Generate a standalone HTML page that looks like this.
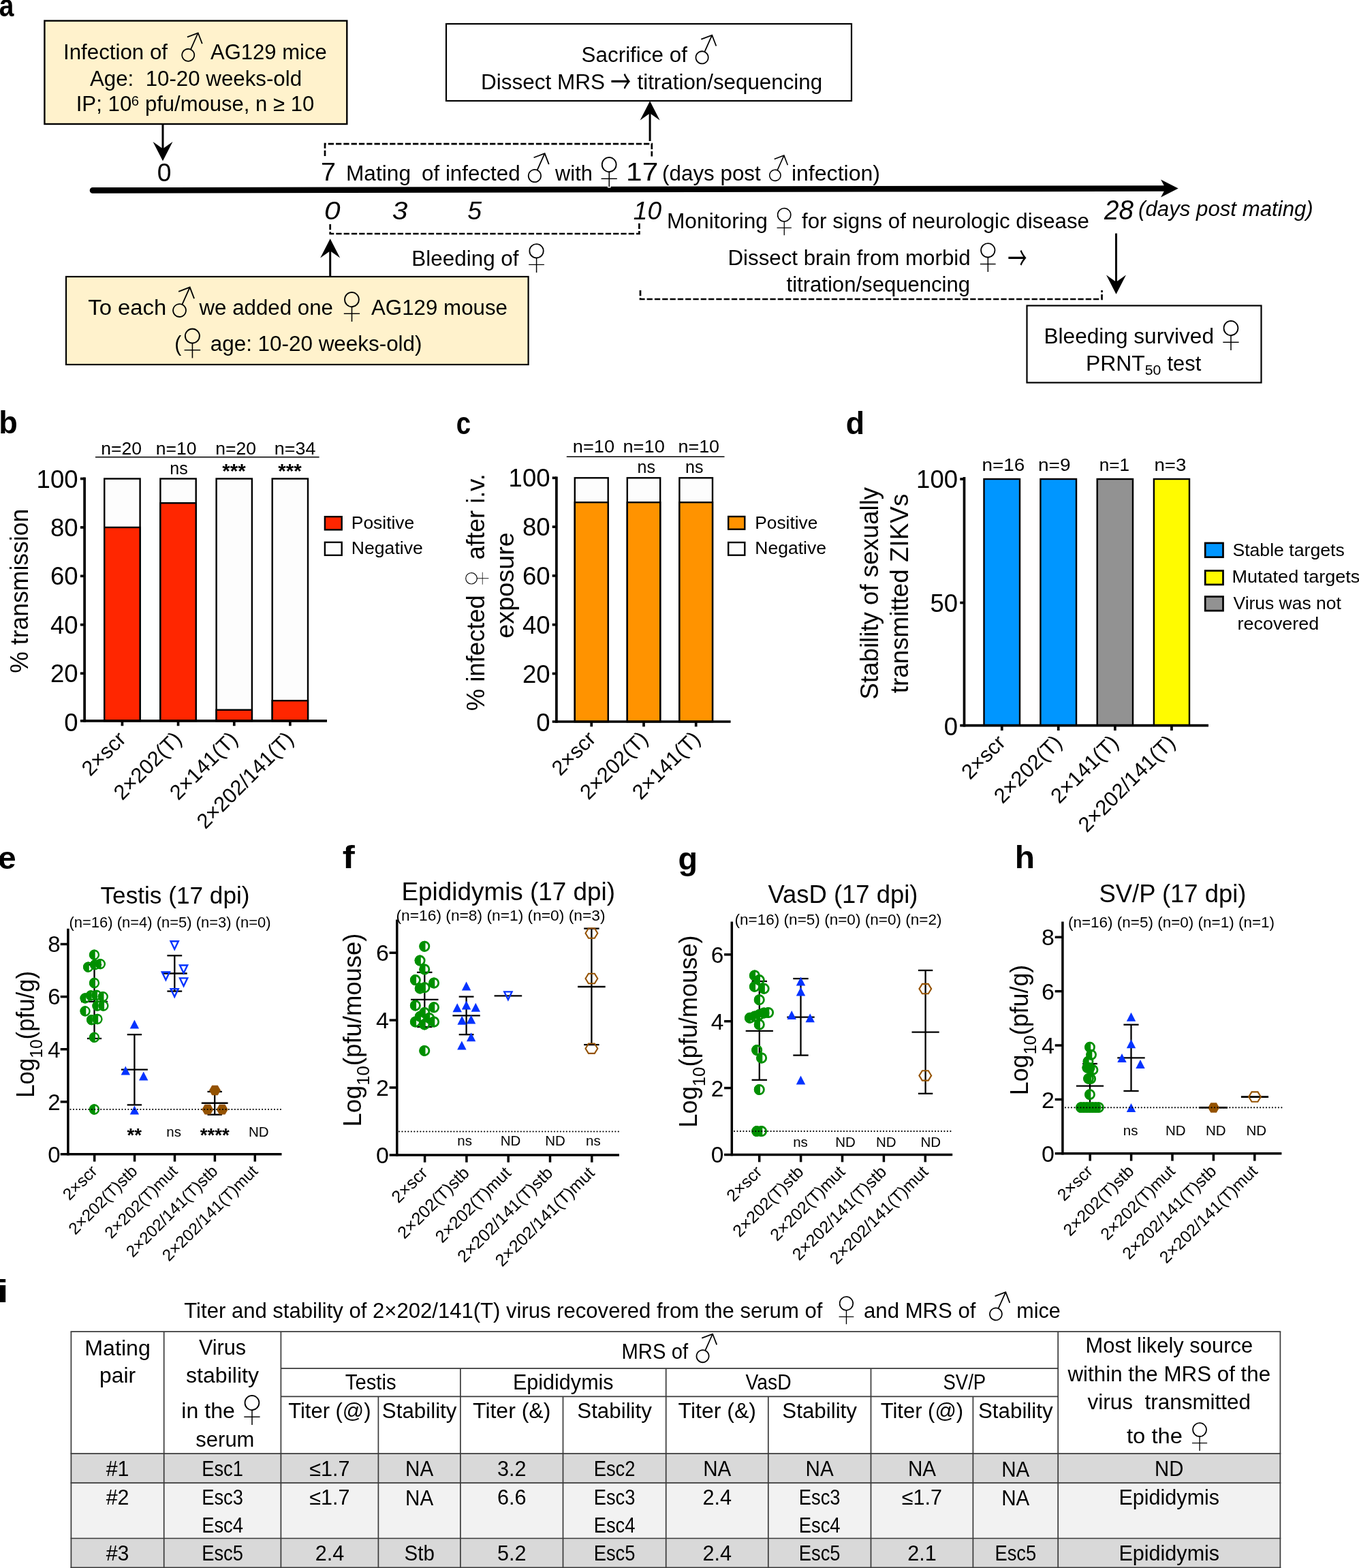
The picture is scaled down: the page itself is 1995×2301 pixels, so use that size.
<!DOCTYPE html>
<html lang="en">
<head>
<meta charset="utf-8">
<title>Figure</title>
<style>
html,body{margin:0;padding:0;background:#fff;width:1995px;height:2301px;overflow:hidden}
svg{display:block}
text{white-space:pre}
</style>
</head>
<body>
<svg xmlns="http://www.w3.org/2000/svg" width="1995" height="2301" viewBox="0 0 1995 2301" font-family="'Liberation Sans', Arial, Helvetica, sans-serif" fill="#000">
<rect x="0" y="0" width="1995" height="2301" fill="#fff"/>
<text x="-1.17" y="24.3" font-size="47" font-weight="bold" textLength="21.62" lengthAdjust="spacingAndGlyphs">a</text>
<rect x="65.4" y="30.5" width="443.9" height="151.5" fill="#FFF2CC" stroke="#000" stroke-width="2.4"/>
<text x="92.98" y="86.5" font-size="31" textLength="153.02" lengthAdjust="spacingAndGlyphs">Infection of</text>
<text transform="translate(276.09,80.91) rotate(-21)" x="-15.79" y="9.95" font-size="49.51" font-family="'Noto Sans CJK JP', 'Noto Sans CJK SC', 'DejaVu Sans', sans-serif" font-weight="100">♂</text>
<text x="309" y="86.5" font-size="31" textLength="170.68" lengthAdjust="spacingAndGlyphs">AG129 mice</text>
<text x="132" y="125.6" font-size="31" textLength="311.05" lengthAdjust="spacingAndGlyphs">Age:  10-20 weeks-old</text>
<text x="111.69" y="162.5" font-size="31" textLength="81.59" lengthAdjust="spacingAndGlyphs">IP; 10</text>
<text x="192.73" y="155.1" font-size="20.5" textLength="11.3" lengthAdjust="spacingAndGlyphs">6</text>
<text x="212.98" y="162.5" font-size="31" textLength="248.2" lengthAdjust="spacingAndGlyphs">pfu/mouse, n ≥ 10</text>
<line x1="239" y1="182" x2="239" y2="222" stroke="#000" stroke-width="3"/>
<polygon points="239,236.3 224.5,208 239,218.3 253.5,208" fill="#000"/>
<text x="230.71" y="265.6" font-size="37" textLength="20.74" lengthAdjust="spacingAndGlyphs">0</text>
<path d="M136,279.4 L1710,276.5" fill="none" stroke="#000" stroke-width="8.6" stroke-linecap="round"/>
<polygon points="1729.7,276.5 1704.1,263.5 1711,276.5 1704.1,289.5" fill="#000"/>
<path d="M477,229 L477,211.1 L956.8,211.1 L956.8,229.5" fill="none" stroke="#000" stroke-width="2.7" stroke-dasharray="8.3,3"/>
<line x1="954.1" y1="207" x2="954.1" y2="160" stroke="#000" stroke-width="3"/>
<polygon points="954.1,148.2 939.6,176.5 954.1,166.2 968.6,176.5" fill="#000"/>
<rect x="655" y="35" width="595" height="113" fill="#fff" stroke="#000" stroke-width="2.2"/>
<text x="853.59" y="91" font-size="31" textLength="155.3" lengthAdjust="spacingAndGlyphs">Sacrifice of</text>
<text transform="translate(1030.5,84.5) rotate(-21)" x="-15.95" y="10.05" font-size="50" font-family="'Noto Sans CJK JP', 'Noto Sans CJK SC', 'DejaVu Sans', sans-serif" font-weight="100">♂</text>
<text x="705.98" y="131" font-size="31" textLength="182.05" lengthAdjust="spacingAndGlyphs">Dissect MRS</text>
<text transform="translate(896.3,137.03) scale(0.620,1)" x="0" y="0" font-size="48.22" font-family="'Noto Sans CJK JP', 'Noto Sans CJK SC', 'DejaVu Sans', sans-serif" font-weight="400">→</text>
<text x="935.53" y="131" font-size="31" textLength="271.59" lengthAdjust="spacingAndGlyphs">titration/sequencing</text>
<text x="471.02" y="265.4" font-size="37" textLength="22" lengthAdjust="spacingAndGlyphs">7</text>
<text x="507.97" y="265.4" font-size="31" textLength="95.04" lengthAdjust="spacingAndGlyphs">Mating</text>
<text x="619.05" y="265.4" font-size="31" textLength="144.57" lengthAdjust="spacingAndGlyphs">of infected</text>
<text transform="translate(784.86,258.14) rotate(-21)" x="-16.03" y="10.1" font-size="50.24" font-family="'Noto Sans CJK JP', 'Noto Sans CJK SC', 'DejaVu Sans', sans-serif" font-weight="100">♂</text>
<text x="815.1" y="265.4" font-size="31" textLength="54.7" lengthAdjust="spacingAndGlyphs">with</text>
<text x="861.84" y="278.2" font-size="86.54" stroke="#fff" stroke-width="1.5">♀</text>
<text x="919.12" y="265.4" font-size="37" textLength="47.2" lengthAdjust="spacingAndGlyphs">17</text>
<text x="972.12" y="265.4" font-size="31" textLength="144.64" lengthAdjust="spacingAndGlyphs">(days post</text>
<text transform="translate(1137.74,257.26) rotate(-21)" x="-14.2" y="8.95" font-size="44.51" font-family="'Noto Sans CJK JP', 'Noto Sans CJK SC', 'DejaVu Sans', sans-serif" font-weight="100">♂</text>
<text x="1161.92" y="265.4" font-size="31" textLength="130.1" lengthAdjust="spacingAndGlyphs">infection)</text>
<text x="476.09" y="322.3" font-size="37" font-style="italic" textLength="23.57" lengthAdjust="spacingAndGlyphs">0</text>
<text x="575.78" y="322.3" font-size="37" font-style="italic" textLength="22.67" lengthAdjust="spacingAndGlyphs">3</text>
<text x="686.37" y="322.3" font-size="37" font-style="italic" textLength="20.79" lengthAdjust="spacingAndGlyphs">5</text>
<text x="929.77" y="322.3" font-size="37" font-style="italic" textLength="41.3" lengthAdjust="spacingAndGlyphs">10</text>
<path d="M484.7,329 L484.7,343 L938.4,343 L938.4,325.6" fill="none" stroke="#000" stroke-width="2.7" stroke-dasharray="8.3,3"/>
<line x1="484.7" y1="406" x2="484.7" y2="362" stroke="#000" stroke-width="3"/>
<polygon points="484.7,350.2 470.2,378.5 484.7,368.2 499.2,378.5" fill="#000"/>
<text x="604.39" y="390.3" font-size="31" textLength="157.18" lengthAdjust="spacingAndGlyphs">Bleeding of</text>
<text x="755.69" y="404.43" font-size="84.81" stroke="#fff" stroke-width="1.5">♀</text>
<rect x="97" y="406" width="678.6" height="129" fill="#FFF2CC" stroke="#000" stroke-width="2.2"/>
<text x="129.34" y="462" font-size="31" textLength="114.87" lengthAdjust="spacingAndGlyphs">To each</text>
<text transform="translate(263.42,455.58) rotate(-21)" x="-16.53" y="10.42" font-size="51.83" font-family="'Noto Sans CJK JP', 'Noto Sans CJK SC', 'DejaVu Sans', sans-serif" font-weight="100">♂</text>
<text x="292.5" y="462" font-size="31" textLength="196.51" lengthAdjust="spacingAndGlyphs">we added one</text>
<text x="483.94" y="475.5" font-size="86.54" stroke="#FFF2CC" stroke-width="1.5">♀</text>
<text x="545" y="462" font-size="31" textLength="199.99" lengthAdjust="spacingAndGlyphs">AG129 mouse</text>
<text x="256.19" y="515" font-size="31" textLength="10.05" lengthAdjust="spacingAndGlyphs">(</text>
<text x="249.83" y="529.54" font-size="87.5" stroke="#FFF2CC" stroke-width="1.5">♀</text>
<text x="308.74" y="515" font-size="31" textLength="310.79" lengthAdjust="spacingAndGlyphs">age: 10-20 weeks-old)</text>
<text x="978.96" y="335" font-size="31" textLength="148.07" lengthAdjust="spacingAndGlyphs">Monitoring</text>
<text x="1121.46" y="349.21" font-size="79.81" stroke="#fff" stroke-width="1.5">♀</text>
<text x="1177.03" y="335" font-size="31" textLength="421.97" lengthAdjust="spacingAndGlyphs">for signs of neurologic disease</text>
<text x="1068.5" y="388.5" font-size="31" textLength="356.11" lengthAdjust="spacingAndGlyphs">Dissect brain from morbid</text>
<text x="1418.41" y="402.92" font-size="84.62" stroke="#fff" stroke-width="1.5">♀</text>
<text transform="translate(1479.37,396.14) scale(0.594,1)" x="0" y="0" font-size="47.57" font-family="'Noto Sans CJK JP', 'Noto Sans CJK SC', 'DejaVu Sans', sans-serif" font-weight="400">→</text>
<text x="1154.53" y="427.5" font-size="31" textLength="269.57" lengthAdjust="spacingAndGlyphs">titration/sequencing</text>
<path d="M940,426 L940,439 L1617.5,439 L1617.5,426" fill="none" stroke="#000" stroke-width="2.7" stroke-dasharray="8.3,3"/>
<text x="1620.99" y="322.3" font-size="40" font-style="italic" textLength="42.99" lengthAdjust="spacingAndGlyphs">28</text>
<text x="1671.1" y="316.5" font-size="31" font-style="italic" textLength="256.64" lengthAdjust="spacingAndGlyphs">(days post mating)</text>
<line x1="1638.5" y1="342.5" x2="1638.5" y2="420" stroke="#000" stroke-width="3"/>
<polygon points="1638.5,431.8 1624,403.5 1638.5,413.8 1653,403.5" fill="#000"/>
<rect x="1507.5" y="448.5" width="344" height="113" fill="#fff" stroke="#000" stroke-width="2.2"/>
<text x="1532.47" y="503.5" font-size="31" textLength="249.55" lengthAdjust="spacingAndGlyphs">Bleeding survived</text>
<text x="1774.44" y="518" font-size="86.54" stroke="#fff" stroke-width="1.5">♀</text>
<text x="1593.95" y="543.5" font-size="31" textLength="86.76" lengthAdjust="spacingAndGlyphs">PRNT</text>
<text x="1680.65" y="550" font-size="20.5" textLength="23.64" lengthAdjust="spacingAndGlyphs">50</text>
<text x="1713.54" y="543.5" font-size="31" textLength="49.67" lengthAdjust="spacingAndGlyphs">test</text>
<text x="-1.83" y="636.2" font-size="47" font-weight="bold" textLength="27.58" lengthAdjust="spacingAndGlyphs">b</text>
<rect x="153.25" y="702.5" width="52.35" height="355.4" fill="#FDFDFD" stroke="#000" stroke-width="2.4"/>
<rect x="153.25" y="773.92" width="52.35" height="283.98" fill="#FF2600" stroke="#000" stroke-width="2.4"/>
<rect x="235.4" y="702.5" width="52.3" height="355.4" fill="#FDFDFD" stroke="#000" stroke-width="2.4"/>
<rect x="235.4" y="738.21" width="52.3" height="319.69" fill="#FF2600" stroke="#000" stroke-width="2.4"/>
<rect x="317.6" y="702.5" width="52.3" height="355.4" fill="#FDFDFD" stroke="#000" stroke-width="2.4"/>
<rect x="317.6" y="1041.74" width="52.3" height="16.16" fill="#FF2600" stroke="#000" stroke-width="2.4"/>
<rect x="399.7" y="702.5" width="52.3" height="355.4" fill="#FDFDFD" stroke="#000" stroke-width="2.4"/>
<rect x="399.7" y="1028.18" width="52.3" height="29.72" fill="#FF2600" stroke="#000" stroke-width="2.4"/>
<line x1="124.1" y1="700.5" x2="124.1" y2="1059.75" stroke="#000" stroke-width="3.7"/>
<line x1="117.9" y1="1057.9" x2="480" y2="1057.9" stroke="#000" stroke-width="3.7"/>
<text x="114.5" y="1072.67" font-size="36.5" text-anchor="end">0</text>
<line x1="117.9" y1="988.18" x2="124.1" y2="988.18" stroke="#000" stroke-width="3.7"/>
<text x="114.5" y="1001.25" font-size="36.5" text-anchor="end">20</text>
<line x1="117.9" y1="916.76" x2="124.1" y2="916.76" stroke="#000" stroke-width="3.7"/>
<text x="114.5" y="929.83" font-size="36.5" text-anchor="end">40</text>
<line x1="117.9" y1="845.34" x2="124.1" y2="845.34" stroke="#000" stroke-width="3.7"/>
<text x="114.5" y="858.41" font-size="36.5" text-anchor="end">60</text>
<line x1="117.9" y1="773.92" x2="124.1" y2="773.92" stroke="#000" stroke-width="3.7"/>
<text x="114.5" y="786.99" font-size="36.5" text-anchor="end">80</text>
<line x1="117.9" y1="702.5" x2="124.1" y2="702.5" stroke="#000" stroke-width="3.7"/>
<text x="114.5" y="715.57" font-size="36.5" text-anchor="end">100</text>
<line x1="179.43" y1="1057.9" x2="179.43" y2="1065.25" stroke="#000" stroke-width="3.7"/>
<line x1="261.55" y1="1057.9" x2="261.55" y2="1065.25" stroke="#000" stroke-width="3.7"/>
<line x1="343.75" y1="1057.9" x2="343.75" y2="1065.25" stroke="#000" stroke-width="3.7"/>
<line x1="425.85" y1="1057.9" x2="425.85" y2="1065.25" stroke="#000" stroke-width="3.7"/>
<text x="148.27" y="667.2" font-size="25.5" textLength="59.82" lengthAdjust="spacingAndGlyphs">n=20</text>
<text x="228.67" y="667.2" font-size="25.5" textLength="59.82" lengthAdjust="spacingAndGlyphs">n=10</text>
<text x="316.17" y="667.2" font-size="25.5" textLength="59.82" lengthAdjust="spacingAndGlyphs">n=20</text>
<text x="402.85" y="667.2" font-size="25.5" textLength="60.52" lengthAdjust="spacingAndGlyphs">n=34</text>
<line x1="140" y1="670.7" x2="468.6" y2="670.7" stroke="#000" stroke-width="1.6"/>
<text x="262.5" y="695.7" font-size="25" text-anchor="middle">ns</text>
<text x="343.4" y="700.8" font-size="29.5" text-anchor="middle" font-weight="bold">***</text>
<text x="425.6" y="700.8" font-size="29.5" text-anchor="middle" font-weight="bold">***</text>
<rect x="476.9" y="758.2" width="24.8" height="19.2" fill="#FF2600" stroke="#000" stroke-width="2.4"/>
<rect x="476.9" y="795.8" width="24.8" height="19" fill="#FDFDFD" stroke="#000" stroke-width="2.4"/>
<text x="515.79" y="776" font-size="26" textLength="92.44" lengthAdjust="spacingAndGlyphs">Positive</text>
<text x="515.77" y="813" font-size="26" textLength="105.08" lengthAdjust="spacingAndGlyphs">Negative</text>
<text transform="translate(41,867.2) rotate(-90)" x="0" y="0" font-size="36" text-anchor="middle" textLength="241" lengthAdjust="spacingAndGlyphs">% transmission</text>
<text transform="translate(186.43,1086.5) rotate(-45)" x="0" y="0" font-size="30.8" text-anchor="end">2×scr</text>
<text transform="translate(268.55,1086.5) rotate(-45)" x="0" y="0" font-size="30.8" text-anchor="end">2×202(T)</text>
<text transform="translate(350.75,1086.5) rotate(-45)" x="0" y="0" font-size="30.8" text-anchor="end">2×141(T)</text>
<text transform="translate(432.85,1086.5) rotate(-45)" x="0" y="0" font-size="30.8" text-anchor="end">2×202/141(T)</text>
<text x="669.87" y="636.8" font-size="47" font-weight="bold" textLength="21.33" lengthAdjust="spacingAndGlyphs">c</text>
<rect x="843.8" y="701.3" width="48.9" height="357.7" fill="#FDFDFD" stroke="#000" stroke-width="2.4"/>
<rect x="843.8" y="737.2" width="48.9" height="321.8" fill="#FF9300" stroke="#000" stroke-width="2.4"/>
<rect x="920.8" y="701.3" width="48.4" height="357.7" fill="#FDFDFD" stroke="#000" stroke-width="2.4"/>
<rect x="920.8" y="737.2" width="48.4" height="321.8" fill="#FF9300" stroke="#000" stroke-width="2.4"/>
<rect x="997.4" y="701.3" width="48.6" height="357.7" fill="#FDFDFD" stroke="#000" stroke-width="2.4"/>
<rect x="997.4" y="737.2" width="48.6" height="321.8" fill="#FF9300" stroke="#000" stroke-width="2.4"/>
<line x1="816.9" y1="699.5" x2="816.9" y2="1060.85" stroke="#000" stroke-width="3.7"/>
<line x1="810.7" y1="1059" x2="1072.6" y2="1059" stroke="#000" stroke-width="3.7"/>
<text x="807.5" y="1073.37" font-size="36.5" text-anchor="end">0</text>
<line x1="810.7" y1="988.5" x2="816.9" y2="988.5" stroke="#000" stroke-width="3.7"/>
<text x="807.5" y="1001.57" font-size="36.5" text-anchor="end">20</text>
<line x1="810.7" y1="916.7" x2="816.9" y2="916.7" stroke="#000" stroke-width="3.7"/>
<text x="807.5" y="929.77" font-size="36.5" text-anchor="end">40</text>
<line x1="810.7" y1="844.9" x2="816.9" y2="844.9" stroke="#000" stroke-width="3.7"/>
<text x="807.5" y="857.97" font-size="36.5" text-anchor="end">60</text>
<line x1="810.7" y1="773.1" x2="816.9" y2="773.1" stroke="#000" stroke-width="3.7"/>
<text x="807.5" y="786.17" font-size="36.5" text-anchor="end">80</text>
<line x1="810.7" y1="701.3" x2="816.9" y2="701.3" stroke="#000" stroke-width="3.7"/>
<text x="807.5" y="714.37" font-size="36.5" text-anchor="end">100</text>
<line x1="868.25" y1="1059" x2="868.25" y2="1066.35" stroke="#000" stroke-width="3.7"/>
<line x1="945" y1="1059" x2="945" y2="1066.35" stroke="#000" stroke-width="3.7"/>
<line x1="1021.7" y1="1059" x2="1021.7" y2="1066.35" stroke="#000" stroke-width="3.7"/>
<text x="840.73" y="663.6" font-size="25.5" textLength="61.39" lengthAdjust="spacingAndGlyphs">n=10</text>
<text x="914.43" y="663.6" font-size="25.5" textLength="61.39" lengthAdjust="spacingAndGlyphs">n=10</text>
<text x="995.45" y="663.6" font-size="25.5" textLength="60.66" lengthAdjust="spacingAndGlyphs">n=10</text>
<line x1="831.8" y1="670.3" x2="1063.5" y2="670.3" stroke="#000" stroke-width="1.6"/>
<text x="948.7" y="693.5" font-size="25" text-anchor="middle">ns</text>
<text x="1019.3" y="693.5" font-size="25" text-anchor="middle">ns</text>
<rect x="1069.2" y="758" width="24.1" height="18.7" fill="#FF9300" stroke="#000" stroke-width="2.4"/>
<rect x="1069.2" y="796" width="24.1" height="18.7" fill="#FDFDFD" stroke="#000" stroke-width="2.4"/>
<text x="1108.3" y="775.8" font-size="26" textLength="92.03" lengthAdjust="spacingAndGlyphs">Positive</text>
<text x="1108.28" y="813" font-size="26" textLength="104.77" lengthAdjust="spacingAndGlyphs">Negative</text>
<text transform="translate(711.1,958.2) rotate(-90)" x="0" y="0" font-size="37" text-anchor="middle" textLength="170" lengthAdjust="spacingAndGlyphs">% infected</text>
<text transform="translate(700.4,849.05) rotate(-90)" x="-25.49" y="20.71" font-size="68.27" stroke="#fff" stroke-width="1.5">♀</text>
<text transform="translate(711.1,758.3) rotate(-90)" x="0" y="0" font-size="37" text-anchor="middle" textLength="126" lengthAdjust="spacingAndGlyphs">after i.v.</text>
<text transform="translate(754.1,858.9) rotate(-90)" x="0" y="0" font-size="37" text-anchor="middle" textLength="155.6" lengthAdjust="spacingAndGlyphs">exposure</text>
<text transform="translate(876.25,1086) rotate(-45)" x="0" y="0" font-size="30.8" text-anchor="end">2×scr</text>
<text transform="translate(953,1086) rotate(-45)" x="0" y="0" font-size="30.8" text-anchor="end">2×202(T)</text>
<text transform="translate(1029.7,1086) rotate(-45)" x="0" y="0" font-size="30.8" text-anchor="end">2×141(T)</text>
<text x="1241.81" y="636.5" font-size="47" font-weight="bold" textLength="27.34" lengthAdjust="spacingAndGlyphs">d</text>
<rect x="1444.5" y="703" width="52.5" height="361.7" fill="#0096FF" stroke="#000" stroke-width="2.4"/>
<rect x="1527.4" y="703" width="52.6" height="361.7" fill="#0096FF" stroke="#000" stroke-width="2.4"/>
<rect x="1610.7" y="703" width="52.3" height="361.7" fill="#929292" stroke="#000" stroke-width="2.4"/>
<rect x="1693.9" y="703" width="52.1" height="361.7" fill="#FFFB00" stroke="#000" stroke-width="2.4"/>
<line x1="1415.5" y1="700" x2="1415.5" y2="1066.55" stroke="#000" stroke-width="3.7"/>
<line x1="1409.3" y1="1064.7" x2="1774" y2="1064.7" stroke="#000" stroke-width="3.7"/>
<text x="1406" y="1079.07" font-size="36.5" text-anchor="end">0</text>
<line x1="1409.3" y1="884.5" x2="1415.5" y2="884.5" stroke="#000" stroke-width="3.7"/>
<text x="1406" y="897.57" font-size="36.5" text-anchor="end">50</text>
<line x1="1409.3" y1="703" x2="1415.5" y2="703" stroke="#000" stroke-width="3.7"/>
<text x="1406" y="716.07" font-size="36.5" text-anchor="end">100</text>
<line x1="1470.75" y1="1064.7" x2="1470.75" y2="1072.05" stroke="#000" stroke-width="3.7"/>
<line x1="1553.7" y1="1064.7" x2="1553.7" y2="1072.05" stroke="#000" stroke-width="3.7"/>
<line x1="1636.85" y1="1064.7" x2="1636.85" y2="1072.05" stroke="#000" stroke-width="3.7"/>
<line x1="1719.95" y1="1064.7" x2="1719.95" y2="1072.05" stroke="#000" stroke-width="3.7"/>
<text x="1441.59" y="691" font-size="25.5" textLength="62.8" lengthAdjust="spacingAndGlyphs">n=16</text>
<text x="1523.98" y="691" font-size="25.5" textLength="47.52" lengthAdjust="spacingAndGlyphs">n=9</text>
<text x="1613.8" y="691" font-size="25.5" textLength="44.31" lengthAdjust="spacingAndGlyphs">n=1</text>
<text x="1694.41" y="691" font-size="25.5" textLength="46.84" lengthAdjust="spacingAndGlyphs">n=3</text>
<rect x="1769.2" y="796.9" width="26.3" height="20.7" fill="#0096FF" stroke="#000" stroke-width="2.7"/>
<rect x="1769.2" y="837.5" width="26.3" height="20.4" fill="#FFFB00" stroke="#000" stroke-width="2.7"/>
<rect x="1769.2" y="875.5" width="26.3" height="20.7" fill="#929292" stroke="#000" stroke-width="2.7"/>
<text x="1809.4" y="815.6" font-size="26.5" textLength="164.35" lengthAdjust="spacingAndGlyphs">Stable targets</text>
<text x="1808.44" y="855.3" font-size="26.5" textLength="187.97" lengthAdjust="spacingAndGlyphs">Mutated targets</text>
<text x="1810.47" y="893.7" font-size="26.5" textLength="158.28" lengthAdjust="spacingAndGlyphs">Virus was not</text>
<text x="1816.55" y="923.6" font-size="26.5" textLength="119.65" lengthAdjust="spacingAndGlyphs">recovered</text>
<text transform="translate(1288.6,870.6) rotate(-90)" x="0" y="0" font-size="37" text-anchor="middle" textLength="311.6" lengthAdjust="spacingAndGlyphs">Stability of sexually</text>
<text transform="translate(1333,871) rotate(-90)" x="0" y="0" font-size="37" text-anchor="middle" textLength="292.6" lengthAdjust="spacingAndGlyphs">transmitted ZIKVs</text>
<text transform="translate(1477.75,1091.5) rotate(-45)" x="0" y="0" font-size="30.8" text-anchor="end">2×scr</text>
<text transform="translate(1560.7,1091.5) rotate(-45)" x="0" y="0" font-size="30.8" text-anchor="end">2×202(T)</text>
<text transform="translate(1643.85,1091.5) rotate(-45)" x="0" y="0" font-size="30.8" text-anchor="end">2×141(T)</text>
<text transform="translate(1726.95,1091.5) rotate(-45)" x="0" y="0" font-size="30.8" text-anchor="end">2×202/141(T)</text>
<text x="-2.92" y="1275.2" font-size="47" font-weight="bold" textLength="26.65" lengthAdjust="spacingAndGlyphs">e</text>
<line x1="99.9" y1="1362.7" x2="99.9" y2="1695.55" stroke="#000" stroke-width="3.5"/>
<line x1="88.7" y1="1693.8" x2="413.5" y2="1693.8" stroke="#000" stroke-width="3.5"/>
<text x="88.5" y="1705.81" font-size="33" text-anchor="end">0</text>
<line x1="88.7" y1="1616.88" x2="99.9" y2="1616.88" stroke="#000" stroke-width="3.5"/>
<text x="88.5" y="1628.69" font-size="33" text-anchor="end">2</text>
<line x1="88.7" y1="1539.76" x2="99.9" y2="1539.76" stroke="#000" stroke-width="3.5"/>
<text x="88.5" y="1551.57" font-size="33" text-anchor="end">4</text>
<line x1="88.7" y1="1462.64" x2="99.9" y2="1462.64" stroke="#000" stroke-width="3.5"/>
<text x="88.5" y="1474.45" font-size="33" text-anchor="end">6</text>
<line x1="88.7" y1="1385.52" x2="99.9" y2="1385.52" stroke="#000" stroke-width="3.5"/>
<text x="88.5" y="1397.33" font-size="33" text-anchor="end">8</text>
<line x1="138.7" y1="1693.8" x2="138.7" y2="1704.6" stroke="#000" stroke-width="3.5"/>
<line x1="197.6" y1="1693.8" x2="197.6" y2="1704.6" stroke="#000" stroke-width="3.5"/>
<line x1="256.5" y1="1693.8" x2="256.5" y2="1704.6" stroke="#000" stroke-width="3.5"/>
<line x1="315.4" y1="1693.8" x2="315.4" y2="1704.6" stroke="#000" stroke-width="3.5"/>
<line x1="374.3" y1="1693.8" x2="374.3" y2="1704.6" stroke="#000" stroke-width="3.5"/>
<text x="147.5" y="1326" font-size="35.5" textLength="219" lengthAdjust="spacingAndGlyphs">Testis (17 dpi)</text>
<text x="101.5" y="1360.5" font-size="22" textLength="296" lengthAdjust="spacingAndGlyphs">(n=16) (n=4) (n=5) (n=3) (n=0)</text>
<text transform="translate(50.2,1517.9) rotate(-90)" x="0" y="0" font-size="37.5" text-anchor="middle" textLength="185.8" lengthAdjust="spacingAndGlyphs">Log<tspan font-size="26.62" dy="12">10</tspan><tspan dy="-12">(pfu/g)</tspan></text>
<text transform="translate(144.2,1720.3) rotate(-45)" x="0" y="0" font-size="24.2" text-anchor="end">2×scr</text>
<text transform="translate(203.1,1720.3) rotate(-45)" x="0" y="0" font-size="24.2" text-anchor="end">2×202(T)stb</text>
<text transform="translate(262,1720.3) rotate(-45)" x="0" y="0" font-size="24.2" text-anchor="end">2×202(T)mut</text>
<text transform="translate(320.9,1720.3) rotate(-45)" x="0" y="0" font-size="24.2" text-anchor="end">2×202/141(T)stb</text>
<text transform="translate(379.8,1720.3) rotate(-45)" x="0" y="0" font-size="24.2" text-anchor="end">2×202/141(T)mut</text>
<text x="197.2" y="1674.9" font-size="27.6" text-anchor="middle" font-weight="bold">**</text>
<text x="255.2" y="1667.7" font-size="20.5" text-anchor="middle">ns</text>
<text x="315.3" y="1674.9" font-size="27.6" text-anchor="middle" font-weight="bold">****</text>
<text x="379.8" y="1667.7" font-size="20.5" text-anchor="middle">ND</text>
<line x1="138.5" y1="1415.7" x2="138.5" y2="1524" stroke="#000" stroke-width="2.3"/>
<line x1="127.9" y1="1415.7" x2="149.1" y2="1415.7" stroke="#000" stroke-width="2.3"/>
<line x1="127.9" y1="1524" x2="149.1" y2="1524" stroke="#000" stroke-width="2.3"/>
<line x1="119" y1="1469.8" x2="158" y2="1469.8" stroke="#000" stroke-width="2.3"/>
<circle cx="138.5" cy="1401.2" r="6.45" fill="none" stroke="#008F00" stroke-width="2.4"/>
<path d="M139.7,1393.64 A7.65,7.65 0 1 0 139.7,1408.76 Z" fill="#008F00"/>
<circle cx="129.6" cy="1419.1" r="6.45" fill="none" stroke="#008F00" stroke-width="2.4"/>
<path d="M130.8,1411.54 A7.65,7.65 0 1 0 130.8,1426.66 Z" fill="#008F00"/>
<circle cx="139.6" cy="1415.7" r="6.45" fill="none" stroke="#008F00" stroke-width="2.4"/>
<path d="M140.8,1408.14 A7.65,7.65 0 1 0 140.8,1423.26 Z" fill="#008F00"/>
<circle cx="147.4" cy="1414.6" r="6.45" fill="none" stroke="#008F00" stroke-width="2.4"/>
<path d="M148.6,1407.04 A7.65,7.65 0 1 0 148.6,1422.16 Z" fill="#008F00"/>
<circle cx="138.5" cy="1442.5" r="6.45" fill="none" stroke="#008F00" stroke-width="2.4"/>
<path d="M139.7,1434.94 A7.65,7.65 0 1 0 139.7,1450.06 Z" fill="#008F00"/>
<circle cx="125.1" cy="1464.8" r="6.45" fill="none" stroke="#008F00" stroke-width="2.4"/>
<path d="M126.3,1457.24 A7.65,7.65 0 1 0 126.3,1472.36 Z" fill="#008F00"/>
<circle cx="133.5" cy="1460.9" r="6.45" fill="none" stroke="#008F00" stroke-width="2.4"/>
<path d="M134.7,1453.34 A7.65,7.65 0 1 0 134.7,1468.46 Z" fill="#008F00"/>
<circle cx="141.9" cy="1460.4" r="6.45" fill="none" stroke="#008F00" stroke-width="2.4"/>
<path d="M143.1,1452.84 A7.65,7.65 0 1 0 143.1,1467.96 Z" fill="#008F00"/>
<circle cx="151.3" cy="1462.6" r="6.45" fill="none" stroke="#008F00" stroke-width="2.4"/>
<path d="M152.5,1455.04 A7.65,7.65 0 1 0 152.5,1470.16 Z" fill="#008F00"/>
<circle cx="143" cy="1476" r="6.45" fill="none" stroke="#008F00" stroke-width="2.4"/>
<path d="M144.2,1468.44 A7.65,7.65 0 1 0 144.2,1483.56 Z" fill="#008F00"/>
<circle cx="151.9" cy="1476" r="6.45" fill="none" stroke="#008F00" stroke-width="2.4"/>
<path d="M153.1,1468.44 A7.65,7.65 0 1 0 153.1,1483.56 Z" fill="#008F00"/>
<circle cx="125.1" cy="1483.8" r="6.45" fill="none" stroke="#008F00" stroke-width="2.4"/>
<path d="M126.3,1476.24 A7.65,7.65 0 1 0 126.3,1491.36 Z" fill="#008F00"/>
<circle cx="134.6" cy="1496.6" r="6.45" fill="none" stroke="#008F00" stroke-width="2.4"/>
<path d="M135.8,1489.04 A7.65,7.65 0 1 0 135.8,1504.16 Z" fill="#008F00"/>
<circle cx="143" cy="1495.5" r="6.45" fill="none" stroke="#008F00" stroke-width="2.4"/>
<path d="M144.2,1487.94 A7.65,7.65 0 1 0 144.2,1503.06 Z" fill="#008F00"/>
<circle cx="138.5" cy="1522.3" r="6.45" fill="none" stroke="#008F00" stroke-width="2.4"/>
<path d="M139.7,1514.74 A7.65,7.65 0 1 0 139.7,1529.86 Z" fill="#008F00"/>
<circle cx="138.5" cy="1628" r="6.45" fill="none" stroke="#008F00" stroke-width="2.4"/>
<path d="M139.7,1620.44 A7.65,7.65 0 1 0 139.7,1635.56 Z" fill="#008F00"/>
<line x1="197.4" y1="1518.2" x2="197.4" y2="1621.4" stroke="#000" stroke-width="2.3"/>
<line x1="186.7" y1="1518.2" x2="208.1" y2="1518.2" stroke="#000" stroke-width="2.3"/>
<line x1="186.7" y1="1621.4" x2="208.1" y2="1621.4" stroke="#000" stroke-width="2.3"/>
<line x1="177.9" y1="1569.6" x2="216.9" y2="1569.6" stroke="#000" stroke-width="2.3"/>
<polygon points="197.4,1496.5 190.7,1509.5 204.1,1509.5" fill="#0433FF"/>
<polygon points="184.3,1564.5 177.6,1577.5 191,1577.5" fill="#0433FF"/>
<polygon points="210.7,1572.5 204,1585.5 217.4,1585.5" fill="#0433FF"/>
<polygon points="197.4,1622.5 190.7,1635.5 204.1,1635.5" fill="#0433FF"/>
<line x1="256.3" y1="1402.3" x2="256.3" y2="1454.6" stroke="#000" stroke-width="2.3"/>
<line x1="245.4" y1="1402.3" x2="267.2" y2="1402.3" stroke="#000" stroke-width="2.3"/>
<line x1="245.4" y1="1454.6" x2="267.2" y2="1454.6" stroke="#000" stroke-width="2.3"/>
<line x1="237.9" y1="1428.5" x2="274.7" y2="1428.5" stroke="#000" stroke-width="2.3"/>
<polygon points="250.6,1381.3 261.8,1381.3 256.2,1392.9" fill="none" stroke="#0433FF" stroke-width="2.4" stroke-linejoin="miter"/>
<polygon points="264,1416.5 275.2,1416.5 269.6,1428.1" fill="none" stroke="#0433FF" stroke-width="2.4" stroke-linejoin="miter"/>
<polygon points="237.8,1426.5 249,1426.5 243.4,1438.1" fill="none" stroke="#0433FF" stroke-width="2.4" stroke-linejoin="miter"/>
<polygon points="264,1435.4 275.2,1435.4 269.6,1447" fill="none" stroke="#0433FF" stroke-width="2.4" stroke-linejoin="miter"/>
<polygon points="250.6,1451.1 261.8,1451.1 256.2,1462.7" fill="none" stroke="#0433FF" stroke-width="2.4" stroke-linejoin="miter"/>
<line x1="315.2" y1="1602" x2="315.2" y2="1635.7" stroke="#000" stroke-width="2.3"/>
<line x1="304.5" y1="1602" x2="325.9" y2="1602" stroke="#000" stroke-width="2.3"/>
<line x1="304.5" y1="1635.7" x2="325.9" y2="1635.7" stroke="#000" stroke-width="2.3"/>
<line x1="295.8" y1="1618.75" x2="334.6" y2="1618.75" stroke="#000" stroke-width="2.3"/>
<polygon points="307,1600 311.25,1592.64 319.75,1592.64 324,1600 319.75,1607.36 311.25,1607.36" fill="#945200"/>
<polygon points="296.3,1628.2 300.55,1620.84 309.05,1620.84 313.3,1628.2 309.05,1635.56 300.55,1635.56" fill="#945200"/>
<polygon points="317.7,1628.2 321.95,1620.84 330.45,1620.84 334.7,1628.2 330.45,1635.56 321.95,1635.56" fill="#945200"/>
<path d="M103.5,1628 L413.5,1628" fill="none" stroke="#000" stroke-width="2.2" stroke-dasharray="0.01,4.46" stroke-linecap="round"/>
<text x="502.79" y="1274" font-size="47" font-weight="bold" textLength="18.01" lengthAdjust="spacingAndGlyphs">f</text>
<line x1="582.8" y1="1349.5" x2="582.8" y2="1696.65" stroke="#000" stroke-width="3.5"/>
<line x1="571.6" y1="1694.9" x2="909" y2="1694.9" stroke="#000" stroke-width="3.5"/>
<text x="571" y="1707.07" font-size="34" text-anchor="end">0</text>
<line x1="571.6" y1="1596" x2="582.8" y2="1596" stroke="#000" stroke-width="3.5"/>
<text x="571" y="1608.17" font-size="34" text-anchor="end">2</text>
<line x1="571.6" y1="1497.1" x2="582.8" y2="1497.1" stroke="#000" stroke-width="3.5"/>
<text x="571" y="1509.27" font-size="34" text-anchor="end">4</text>
<line x1="571.6" y1="1398.2" x2="582.8" y2="1398.2" stroke="#000" stroke-width="3.5"/>
<text x="571" y="1410.37" font-size="34" text-anchor="end">6</text>
<line x1="623.6" y1="1694.9" x2="623.6" y2="1705.7" stroke="#000" stroke-width="3.5"/>
<line x1="684.9" y1="1694.9" x2="684.9" y2="1705.7" stroke="#000" stroke-width="3.5"/>
<line x1="746.2" y1="1694.9" x2="746.2" y2="1705.7" stroke="#000" stroke-width="3.5"/>
<line x1="807.5" y1="1694.9" x2="807.5" y2="1705.7" stroke="#000" stroke-width="3.5"/>
<line x1="868.8" y1="1694.9" x2="868.8" y2="1705.7" stroke="#000" stroke-width="3.5"/>
<text x="589.5" y="1321.2" font-size="36.5" textLength="313.5" lengthAdjust="spacingAndGlyphs">Epididymis (17 dpi)</text>
<text x="581.5" y="1351" font-size="22.5" textLength="307" lengthAdjust="spacingAndGlyphs">(n=16) (n=8) (n=1) (n=0) (n=3)</text>
<text transform="translate(529.7,1511.6) rotate(-90)" x="0" y="0" font-size="37.5" text-anchor="middle" textLength="284" lengthAdjust="spacingAndGlyphs">Log<tspan font-size="26.62" dy="12">10</tspan><tspan dy="-12">(pfu/mouse)</tspan></text>
<text transform="translate(629.1,1722.8) rotate(-45)" x="0" y="0" font-size="25.2" text-anchor="end">2×scr</text>
<text transform="translate(690.4,1722.8) rotate(-45)" x="0" y="0" font-size="25.2" text-anchor="end">2×202(T)stb</text>
<text transform="translate(751.7,1722.8) rotate(-45)" x="0" y="0" font-size="25.2" text-anchor="end">2×202(T)mut</text>
<text transform="translate(813,1722.8) rotate(-45)" x="0" y="0" font-size="25.2" text-anchor="end">2×202/141(T)stb</text>
<text transform="translate(874.3,1722.8) rotate(-45)" x="0" y="0" font-size="25.2" text-anchor="end">2×202/141(T)mut</text>
<text x="682.2" y="1681.3" font-size="20.5" text-anchor="middle">ns</text>
<text x="749.5" y="1681.3" font-size="20.5" text-anchor="middle">ND</text>
<text x="815" y="1681.3" font-size="20.5" text-anchor="middle">ND</text>
<text x="870.9" y="1681.3" font-size="20.5" text-anchor="middle">ns</text>
<line x1="623.3" y1="1426.9" x2="623.3" y2="1507" stroke="#000" stroke-width="2.3"/>
<line x1="612.1" y1="1426.9" x2="634.5" y2="1426.9" stroke="#000" stroke-width="2.3"/>
<line x1="612.1" y1="1507" x2="634.5" y2="1507" stroke="#000" stroke-width="2.3"/>
<line x1="603.1" y1="1466.9" x2="643.5" y2="1466.9" stroke="#000" stroke-width="2.3"/>
<circle cx="623.3" cy="1388.75" r="6.6" fill="none" stroke="#008F00" stroke-width="2.8"/>
<path d="M624.5,1380.84 A8,8 0 1 0 624.5,1396.66 Z" fill="#008F00"/>
<circle cx="616.6" cy="1409.6" r="6.6" fill="none" stroke="#008F00" stroke-width="2.8"/>
<path d="M617.8,1401.69 A8,8 0 1 0 617.8,1417.51 Z" fill="#008F00"/>
<circle cx="623.3" cy="1422.5" r="6.6" fill="none" stroke="#008F00" stroke-width="2.8"/>
<path d="M624.5,1414.59 A8,8 0 1 0 624.5,1430.41 Z" fill="#008F00"/>
<circle cx="609.9" cy="1438.1" r="6.6" fill="none" stroke="#008F00" stroke-width="2.8"/>
<path d="M611.1,1430.19 A8,8 0 1 0 611.1,1446.01 Z" fill="#008F00"/>
<circle cx="637.1" cy="1442.5" r="6.6" fill="none" stroke="#008F00" stroke-width="2.8"/>
<path d="M638.3,1434.59 A8,8 0 1 0 638.3,1450.41 Z" fill="#008F00"/>
<circle cx="616.8" cy="1450.4" r="6.6" fill="none" stroke="#008F00" stroke-width="2.8"/>
<path d="M618,1442.49 A8,8 0 1 0 618,1458.31 Z" fill="#008F00"/>
<circle cx="623.5" cy="1449.2" r="6.6" fill="none" stroke="#008F00" stroke-width="2.8"/>
<path d="M624.7,1441.29 A8,8 0 1 0 624.7,1457.11 Z" fill="#008F00"/>
<circle cx="609.9" cy="1475.5" r="6.6" fill="none" stroke="#008F00" stroke-width="2.8"/>
<path d="M611.1,1467.59 A8,8 0 1 0 611.1,1483.41 Z" fill="#008F00"/>
<circle cx="637.1" cy="1478.3" r="6.6" fill="none" stroke="#008F00" stroke-width="2.8"/>
<path d="M638.3,1470.39 A8,8 0 1 0 638.3,1486.21 Z" fill="#008F00"/>
<circle cx="623.3" cy="1486" r="6.6" fill="none" stroke="#008F00" stroke-width="2.8"/>
<path d="M624.5,1478.09 A8,8 0 1 0 624.5,1493.91 Z" fill="#008F00"/>
<circle cx="616.8" cy="1491.7" r="6.6" fill="none" stroke="#008F00" stroke-width="2.8"/>
<path d="M618,1483.79 A8,8 0 1 0 618,1499.61 Z" fill="#008F00"/>
<circle cx="630.2" cy="1493.9" r="6.6" fill="none" stroke="#008F00" stroke-width="2.8"/>
<path d="M631.4,1485.99 A8,8 0 1 0 631.4,1501.81 Z" fill="#008F00"/>
<circle cx="609.9" cy="1499.5" r="6.6" fill="none" stroke="#008F00" stroke-width="2.8"/>
<path d="M611.1,1491.59 A8,8 0 1 0 611.1,1507.41 Z" fill="#008F00"/>
<circle cx="637.1" cy="1499.5" r="6.6" fill="none" stroke="#008F00" stroke-width="2.8"/>
<path d="M638.3,1491.59 A8,8 0 1 0 638.3,1507.41 Z" fill="#008F00"/>
<circle cx="623.3" cy="1503.4" r="6.6" fill="none" stroke="#008F00" stroke-width="2.8"/>
<path d="M624.5,1495.49 A8,8 0 1 0 624.5,1511.31 Z" fill="#008F00"/>
<circle cx="623.3" cy="1541.9" r="6.6" fill="none" stroke="#008F00" stroke-width="2.8"/>
<path d="M624.5,1533.99 A8,8 0 1 0 624.5,1549.81 Z" fill="#008F00"/>
<line x1="684.6" y1="1462.6" x2="684.6" y2="1518.2" stroke="#000" stroke-width="2.3"/>
<line x1="673.7" y1="1462.6" x2="695.5" y2="1462.6" stroke="#000" stroke-width="2.3"/>
<line x1="673.7" y1="1518.2" x2="695.5" y2="1518.2" stroke="#000" stroke-width="2.3"/>
<line x1="664.4" y1="1490.3" x2="704.8" y2="1490.3" stroke="#000" stroke-width="2.3"/>
<polygon points="684.6,1440.5 677.9,1453.5 691.3,1453.5" fill="#0433FF"/>
<polygon points="684.6,1468.4 677.9,1481.4 691.3,1481.4" fill="#0433FF"/>
<polygon points="671.25,1472.3 664.55,1485.3 677.95,1485.3" fill="#0433FF"/>
<polygon points="698.3,1471.8 691.6,1484.8 705,1484.8" fill="#0433FF"/>
<polygon points="678.2,1490.7 671.5,1503.7 684.9,1503.7" fill="#0433FF"/>
<polygon points="691.6,1489.6 684.9,1502.6 698.3,1502.6" fill="#0433FF"/>
<polygon points="691.6,1515.3 684.9,1528.3 698.3,1528.3" fill="#0433FF"/>
<polygon points="677.9,1527.5 671.2,1540.5 684.6,1540.5" fill="#0433FF"/>
<line x1="725.6" y1="1461.3" x2="766.2" y2="1461.3" stroke="#000" stroke-width="2.3"/>
<polygon points="740.3,1455.4 751.5,1455.4 745.9,1467" fill="none" stroke="#0433FF" stroke-width="2.4" stroke-linejoin="miter"/>
<line x1="868.4" y1="1362.6" x2="868.4" y2="1533.1" stroke="#000" stroke-width="2.3"/>
<line x1="857.2" y1="1362.6" x2="879.6" y2="1362.6" stroke="#000" stroke-width="2.3"/>
<line x1="857.2" y1="1533.1" x2="879.6" y2="1533.1" stroke="#000" stroke-width="2.3"/>
<line x1="848.1" y1="1448" x2="888.7" y2="1448" stroke="#000" stroke-width="2.3"/>
<polygon points="859.5,1369.5 863.95,1362.3 872.85,1362.3 877.3,1369.5 872.85,1376.7 863.95,1376.7" fill="none" stroke="#945200" stroke-width="2.1" stroke-linejoin="miter"/>
<polygon points="859.5,1436 863.95,1428.8 872.85,1428.8 877.3,1436 872.85,1443.2 863.95,1443.2" fill="none" stroke="#945200" stroke-width="2.1" stroke-linejoin="miter"/>
<polygon points="859.5,1538.7 863.95,1531.5 872.85,1531.5 877.3,1538.7 872.85,1545.9 863.95,1545.9" fill="none" stroke="#945200" stroke-width="2.1" stroke-linejoin="miter"/>
<path d="M586,1660.5 L909,1660.5" fill="none" stroke="#000" stroke-width="2.2" stroke-dasharray="0.01,4.46" stroke-linecap="round"/>
<text x="995.43" y="1275.7" font-size="47" font-weight="bold" textLength="28.55" lengthAdjust="spacingAndGlyphs">g</text>
<line x1="1074.3" y1="1352.6" x2="1074.3" y2="1696.25" stroke="#000" stroke-width="3.5"/>
<line x1="1063.1" y1="1694.5" x2="1398.2" y2="1694.5" stroke="#000" stroke-width="3.5"/>
<text x="1062.5" y="1706.49" font-size="33.5" text-anchor="end">0</text>
<line x1="1063.1" y1="1596.6" x2="1074.3" y2="1596.6" stroke="#000" stroke-width="3.5"/>
<text x="1062.5" y="1608.59" font-size="33.5" text-anchor="end">2</text>
<line x1="1063.1" y1="1498.7" x2="1074.3" y2="1498.7" stroke="#000" stroke-width="3.5"/>
<text x="1062.5" y="1510.69" font-size="33.5" text-anchor="end">4</text>
<line x1="1063.1" y1="1400.8" x2="1074.3" y2="1400.8" stroke="#000" stroke-width="3.5"/>
<text x="1062.5" y="1412.79" font-size="33.5" text-anchor="end">6</text>
<line x1="1114.7" y1="1694.5" x2="1114.7" y2="1705.3" stroke="#000" stroke-width="3.5"/>
<line x1="1175.6" y1="1694.5" x2="1175.6" y2="1705.3" stroke="#000" stroke-width="3.5"/>
<line x1="1236.5" y1="1694.5" x2="1236.5" y2="1705.3" stroke="#000" stroke-width="3.5"/>
<line x1="1297.4" y1="1694.5" x2="1297.4" y2="1705.3" stroke="#000" stroke-width="3.5"/>
<line x1="1358.3" y1="1694.5" x2="1358.3" y2="1705.3" stroke="#000" stroke-width="3.5"/>
<text x="1127.5" y="1325.3" font-size="36.5" textLength="220" lengthAdjust="spacingAndGlyphs">VasD (17 dpi)</text>
<text x="1078.5" y="1357.4" font-size="22.5" textLength="304" lengthAdjust="spacingAndGlyphs">(n=16) (n=5) (n=0) (n=0) (n=2)</text>
<text transform="translate(1023.1,1513.5) rotate(-90)" x="0" y="0" font-size="37.5" text-anchor="middle" textLength="282.3" lengthAdjust="spacingAndGlyphs">Log<tspan font-size="26.62" dy="12">10</tspan><tspan dy="-12">(pfu/mouse)</tspan></text>
<text transform="translate(1120.2,1721.3) rotate(-45)" x="0" y="0" font-size="24.9" text-anchor="end">2×scr</text>
<text transform="translate(1181.1,1721.3) rotate(-45)" x="0" y="0" font-size="24.9" text-anchor="end">2×202(T)stb</text>
<text transform="translate(1242,1721.3) rotate(-45)" x="0" y="0" font-size="24.9" text-anchor="end">2×202(T)mut</text>
<text transform="translate(1302.9,1721.3) rotate(-45)" x="0" y="0" font-size="24.9" text-anchor="end">2×202/141(T)stb</text>
<text transform="translate(1363.8,1721.3) rotate(-45)" x="0" y="0" font-size="24.9" text-anchor="end">2×202/141(T)mut</text>
<text x="1175" y="1682.8" font-size="20.5" text-anchor="middle">ns</text>
<text x="1241" y="1682.8" font-size="20.5" text-anchor="middle">ND</text>
<text x="1300.8" y="1682.8" font-size="20.5" text-anchor="middle">ND</text>
<text x="1366.2" y="1682.8" font-size="20.5" text-anchor="middle">ND</text>
<line x1="1114.8" y1="1440" x2="1114.8" y2="1584.8" stroke="#000" stroke-width="2.3"/>
<line x1="1103.6" y1="1440" x2="1126" y2="1440" stroke="#000" stroke-width="2.3"/>
<line x1="1103.6" y1="1584.8" x2="1126" y2="1584.8" stroke="#000" stroke-width="2.3"/>
<line x1="1094.7" y1="1512.9" x2="1134.9" y2="1512.9" stroke="#000" stroke-width="2.3"/>
<circle cx="1107.9" cy="1431.5" r="6.6" fill="none" stroke="#008F00" stroke-width="2.8"/>
<path d="M1109.1,1423.59 A8,8 0 1 0 1109.1,1439.41 Z" fill="#008F00"/>
<circle cx="1114.8" cy="1438.1" r="6.6" fill="none" stroke="#008F00" stroke-width="2.8"/>
<path d="M1116,1430.19 A8,8 0 1 0 1116,1446.01 Z" fill="#008F00"/>
<circle cx="1107.9" cy="1447.8" r="6.6" fill="none" stroke="#008F00" stroke-width="2.8"/>
<path d="M1109.1,1439.89 A8,8 0 1 0 1109.1,1455.71 Z" fill="#008F00"/>
<circle cx="1121.7" cy="1450.8" r="6.6" fill="none" stroke="#008F00" stroke-width="2.8"/>
<path d="M1122.9,1442.89 A8,8 0 1 0 1122.9,1458.71 Z" fill="#008F00"/>
<circle cx="1114.8" cy="1467.2" r="6.6" fill="none" stroke="#008F00" stroke-width="2.8"/>
<path d="M1116,1459.29 A8,8 0 1 0 1116,1475.11 Z" fill="#008F00"/>
<circle cx="1100.9" cy="1493.8" r="6.6" fill="none" stroke="#008F00" stroke-width="2.8"/>
<path d="M1102.1,1485.89 A8,8 0 1 0 1102.1,1501.71 Z" fill="#008F00"/>
<circle cx="1108.1" cy="1491.4" r="6.6" fill="none" stroke="#008F00" stroke-width="2.8"/>
<path d="M1109.3,1483.49 A8,8 0 1 0 1109.3,1499.31 Z" fill="#008F00"/>
<circle cx="1114.8" cy="1489" r="6.6" fill="none" stroke="#008F00" stroke-width="2.8"/>
<path d="M1116,1481.09 A8,8 0 1 0 1116,1496.91 Z" fill="#008F00"/>
<circle cx="1121.5" cy="1486.5" r="6.6" fill="none" stroke="#008F00" stroke-width="2.8"/>
<path d="M1122.7,1478.59 A8,8 0 1 0 1122.7,1494.41 Z" fill="#008F00"/>
<circle cx="1128.1" cy="1486" r="6.6" fill="none" stroke="#008F00" stroke-width="2.8"/>
<path d="M1129.3,1478.09 A8,8 0 1 0 1129.3,1493.91 Z" fill="#008F00"/>
<circle cx="1114.8" cy="1503.5" r="6.6" fill="none" stroke="#008F00" stroke-width="2.8"/>
<path d="M1116,1495.59 A8,8 0 1 0 1116,1511.41 Z" fill="#008F00"/>
<circle cx="1111.2" cy="1541" r="6.6" fill="none" stroke="#008F00" stroke-width="2.8"/>
<path d="M1112.4,1533.09 A8,8 0 1 0 1112.4,1548.91 Z" fill="#008F00"/>
<circle cx="1118.1" cy="1552.5" r="6.6" fill="none" stroke="#008F00" stroke-width="2.8"/>
<path d="M1119.3,1544.59 A8,8 0 1 0 1119.3,1560.41 Z" fill="#008F00"/>
<circle cx="1114.8" cy="1599" r="6.6" fill="none" stroke="#008F00" stroke-width="2.8"/>
<path d="M1116,1591.09 A8,8 0 1 0 1116,1606.91 Z" fill="#008F00"/>
<circle cx="1111.2" cy="1660.1" r="6.6" fill="none" stroke="#008F00" stroke-width="2.8"/>
<path d="M1112.4,1652.19 A8,8 0 1 0 1112.4,1668.01 Z" fill="#008F00"/>
<circle cx="1118.1" cy="1660.1" r="6.6" fill="none" stroke="#008F00" stroke-width="2.8"/>
<path d="M1119.3,1652.19 A8,8 0 1 0 1119.3,1668.01 Z" fill="#008F00"/>
<line x1="1175.5" y1="1436.1" x2="1175.5" y2="1548.6" stroke="#000" stroke-width="2.3"/>
<line x1="1164.3" y1="1436.1" x2="1186.7" y2="1436.1" stroke="#000" stroke-width="2.3"/>
<line x1="1164.3" y1="1548.6" x2="1186.7" y2="1548.6" stroke="#000" stroke-width="2.3"/>
<line x1="1155.3" y1="1492.6" x2="1195.7" y2="1492.6" stroke="#000" stroke-width="2.3"/>
<polygon points="1175.5,1433.5 1168.8,1446.5 1182.2,1446.5" fill="#0433FF"/>
<polygon points="1175.5,1448.5 1168.8,1461.5 1182.2,1461.5" fill="#0433FF"/>
<polygon points="1162.2,1483.1 1155.5,1496.1 1168.9,1496.1" fill="#0433FF"/>
<polygon points="1189.2,1487.3 1182.5,1500.3 1195.9,1500.3" fill="#0433FF"/>
<polygon points="1175.5,1578.5 1168.8,1591.5 1182.2,1591.5" fill="#0433FF"/>
<line x1="1358.6" y1="1424" x2="1358.6" y2="1604.8" stroke="#000" stroke-width="2.3"/>
<line x1="1347.9" y1="1424" x2="1369.3" y2="1424" stroke="#000" stroke-width="2.3"/>
<line x1="1347.9" y1="1604.8" x2="1369.3" y2="1604.8" stroke="#000" stroke-width="2.3"/>
<line x1="1338.5" y1="1514.6" x2="1378.7" y2="1514.6" stroke="#000" stroke-width="2.3"/>
<polygon points="1349.4,1451.1 1353.85,1443.9 1362.75,1443.9 1367.2,1451.1 1362.75,1458.3 1353.85,1458.3" fill="none" stroke="#945200" stroke-width="2.1" stroke-linejoin="miter"/>
<polygon points="1349.4,1578.4 1353.85,1571.2 1362.75,1571.2 1367.2,1578.4 1362.75,1585.6 1353.85,1585.6" fill="none" stroke="#945200" stroke-width="2.1" stroke-linejoin="miter"/>
<path d="M1078,1660.1 L1398.2,1660.1" fill="none" stroke="#000" stroke-width="2.2" stroke-dasharray="0.01,4.46" stroke-linecap="round"/>
<text x="1489.65" y="1274" font-size="47" font-weight="bold" textLength="29.27" lengthAdjust="spacingAndGlyphs">h</text>
<line x1="1559.9" y1="1352.6" x2="1559.9" y2="1694.55" stroke="#000" stroke-width="3.5"/>
<line x1="1548.7" y1="1692.8" x2="1881.4" y2="1692.8" stroke="#000" stroke-width="3.5"/>
<text x="1548" y="1704.97" font-size="34" text-anchor="end">0</text>
<line x1="1548.7" y1="1613.42" x2="1559.9" y2="1613.42" stroke="#000" stroke-width="3.5"/>
<text x="1548" y="1625.59" font-size="34" text-anchor="end">2</text>
<line x1="1548.7" y1="1534.04" x2="1559.9" y2="1534.04" stroke="#000" stroke-width="3.5"/>
<text x="1548" y="1546.21" font-size="34" text-anchor="end">4</text>
<line x1="1548.7" y1="1454.66" x2="1559.9" y2="1454.66" stroke="#000" stroke-width="3.5"/>
<text x="1548" y="1466.83" font-size="34" text-anchor="end">6</text>
<line x1="1548.7" y1="1375.28" x2="1559.9" y2="1375.28" stroke="#000" stroke-width="3.5"/>
<text x="1548" y="1387.45" font-size="34" text-anchor="end">8</text>
<line x1="1600.2" y1="1692.8" x2="1600.2" y2="1703.6" stroke="#000" stroke-width="3.5"/>
<line x1="1660.6" y1="1692.8" x2="1660.6" y2="1703.6" stroke="#000" stroke-width="3.5"/>
<line x1="1721" y1="1692.8" x2="1721" y2="1703.6" stroke="#000" stroke-width="3.5"/>
<line x1="1781.4" y1="1692.8" x2="1781.4" y2="1703.6" stroke="#000" stroke-width="3.5"/>
<line x1="1841.8" y1="1692.8" x2="1841.8" y2="1703.6" stroke="#000" stroke-width="3.5"/>
<text x="1613.5" y="1324.3" font-size="36.5" textLength="216" lengthAdjust="spacingAndGlyphs">SV/P (17 dpi)</text>
<text x="1568" y="1360.5" font-size="22.5" textLength="303" lengthAdjust="spacingAndGlyphs">(n=16) (n=5) (n=0) (n=1) (n=1)</text>
<text transform="translate(1508.9,1511.5) rotate(-90)" x="0" y="0" font-size="37.5" text-anchor="middle" textLength="191.6" lengthAdjust="spacingAndGlyphs">Log<tspan font-size="26.62" dy="12">10</tspan><tspan dy="-12">(pfu/g)</tspan></text>
<text transform="translate(1605.7,1720.3) rotate(-45)" x="0" y="0" font-size="24.8" text-anchor="end">2×scr</text>
<text transform="translate(1666.1,1720.3) rotate(-45)" x="0" y="0" font-size="24.8" text-anchor="end">2×202(T)stb</text>
<text transform="translate(1726.5,1720.3) rotate(-45)" x="0" y="0" font-size="24.8" text-anchor="end">2×202(T)mut</text>
<text transform="translate(1786.9,1720.3) rotate(-45)" x="0" y="0" font-size="24.8" text-anchor="end">2×202/141(T)stb</text>
<text transform="translate(1847.3,1720.3) rotate(-45)" x="0" y="0" font-size="24.8" text-anchor="end">2×202/141(T)mut</text>
<text x="1659.7" y="1665.5" font-size="20.5" text-anchor="middle">ns</text>
<text x="1725.7" y="1665.5" font-size="20.5" text-anchor="middle">ND</text>
<text x="1784.8" y="1665.5" font-size="20.5" text-anchor="middle">ND</text>
<text x="1844.3" y="1665.5" font-size="20.5" text-anchor="middle">ND</text>
<line x1="1600" y1="1561" x2="1600" y2="1625.3" stroke="#000" stroke-width="2.3"/>
<line x1="1589.1" y1="1561" x2="1610.9" y2="1561" stroke="#000" stroke-width="2.3"/>
<line x1="1589.1" y1="1625.3" x2="1610.9" y2="1625.3" stroke="#000" stroke-width="2.3"/>
<line x1="1579.9" y1="1593.7" x2="1620.1" y2="1593.7" stroke="#000" stroke-width="2.3"/>
<circle cx="1587" cy="1625.2" r="6.5" fill="none" stroke="#008F00" stroke-width="2.8"/>
<path d="M1588.2,1617.39 A7.9,7.9 0 1 0 1588.2,1633.01 Z" fill="#008F00"/>
<circle cx="1591.3" cy="1625.2" r="6.5" fill="none" stroke="#008F00" stroke-width="2.8"/>
<path d="M1592.5,1617.39 A7.9,7.9 0 1 0 1592.5,1633.01 Z" fill="#008F00"/>
<circle cx="1595.7" cy="1625.2" r="6.5" fill="none" stroke="#008F00" stroke-width="2.8"/>
<path d="M1596.9,1617.39 A7.9,7.9 0 1 0 1596.9,1633.01 Z" fill="#008F00"/>
<circle cx="1600" cy="1625.2" r="6.5" fill="none" stroke="#008F00" stroke-width="2.8"/>
<path d="M1601.2,1617.39 A7.9,7.9 0 1 0 1601.2,1633.01 Z" fill="#008F00"/>
<circle cx="1604.3" cy="1625.2" r="6.5" fill="none" stroke="#008F00" stroke-width="2.8"/>
<path d="M1605.5,1617.39 A7.9,7.9 0 1 0 1605.5,1633.01 Z" fill="#008F00"/>
<circle cx="1608.7" cy="1625.2" r="6.5" fill="none" stroke="#008F00" stroke-width="2.8"/>
<path d="M1609.9,1617.39 A7.9,7.9 0 1 0 1609.9,1633.01 Z" fill="#008F00"/>
<circle cx="1613" cy="1625.2" r="6.5" fill="none" stroke="#008F00" stroke-width="2.8"/>
<path d="M1614.2,1617.39 A7.9,7.9 0 1 0 1614.2,1633.01 Z" fill="#008F00"/>
<circle cx="1600" cy="1606.2" r="6.5" fill="none" stroke="#008F00" stroke-width="2.8"/>
<path d="M1601.2,1598.39 A7.9,7.9 0 1 0 1601.2,1614.01 Z" fill="#008F00"/>
<circle cx="1598" cy="1582.8" r="6.5" fill="none" stroke="#008F00" stroke-width="2.8"/>
<path d="M1599.2,1574.99 A7.9,7.9 0 1 0 1599.2,1590.61 Z" fill="#008F00"/>
<circle cx="1601.2" cy="1583.2" r="6.5" fill="none" stroke="#008F00" stroke-width="2.8"/>
<path d="M1602.4,1575.39 A7.9,7.9 0 1 0 1602.4,1591.01 Z" fill="#008F00"/>
<circle cx="1596.3" cy="1566.8" r="6.5" fill="none" stroke="#008F00" stroke-width="2.8"/>
<path d="M1597.5,1558.99 A7.9,7.9 0 1 0 1597.5,1574.61 Z" fill="#008F00"/>
<circle cx="1599.6" cy="1567.2" r="6.5" fill="none" stroke="#008F00" stroke-width="2.8"/>
<path d="M1600.8,1559.39 A7.9,7.9 0 1 0 1600.8,1575.01 Z" fill="#008F00"/>
<circle cx="1604.5" cy="1570" r="6.5" fill="none" stroke="#008F00" stroke-width="2.8"/>
<path d="M1605.7,1562.19 A7.9,7.9 0 1 0 1605.7,1577.81 Z" fill="#008F00"/>
<circle cx="1597.5" cy="1557.7" r="6.5" fill="none" stroke="#008F00" stroke-width="2.8"/>
<path d="M1598.7,1549.89 A7.9,7.9 0 1 0 1598.7,1565.51 Z" fill="#008F00"/>
<circle cx="1602.1" cy="1547.8" r="6.5" fill="none" stroke="#008F00" stroke-width="2.8"/>
<path d="M1603.3,1539.99 A7.9,7.9 0 1 0 1603.3,1555.61 Z" fill="#008F00"/>
<circle cx="1600" cy="1536.7" r="6.5" fill="none" stroke="#008F00" stroke-width="2.8"/>
<path d="M1601.2,1528.89 A7.9,7.9 0 1 0 1601.2,1544.51 Z" fill="#008F00"/>
<line x1="1660.5" y1="1503.7" x2="1660.5" y2="1601" stroke="#000" stroke-width="2.3"/>
<line x1="1649.4" y1="1503.7" x2="1671.6" y2="1503.7" stroke="#000" stroke-width="2.3"/>
<line x1="1649.4" y1="1601" x2="1671.6" y2="1601" stroke="#000" stroke-width="2.3"/>
<line x1="1640.3" y1="1552.4" x2="1680.7" y2="1552.4" stroke="#000" stroke-width="2.3"/>
<polygon points="1660.5,1485.8 1653.8,1498.8 1667.2,1498.8" fill="#0433FF"/>
<polygon points="1660.5,1525.3 1653.8,1538.3 1667.2,1538.3" fill="#0433FF"/>
<polygon points="1647,1545.9 1640.3,1558.9 1653.7,1558.9" fill="#0433FF"/>
<polygon points="1674,1554.9 1667.3,1567.9 1680.7,1567.9" fill="#0433FF"/>
<polygon points="1660.5,1619.1 1653.8,1632.1 1667.2,1632.1" fill="#0433FF"/>
<line x1="1760.2" y1="1625.3" x2="1802" y2="1625.3" stroke="#000" stroke-width="2.8"/>
<polygon points="1773.1,1625.5 1777.35,1618.14 1785.85,1618.14 1790.1,1625.5 1785.85,1632.86 1777.35,1632.86" fill="#945200"/>
<line x1="1821.9" y1="1609.7" x2="1862.1" y2="1609.7" stroke="#000" stroke-width="2.8"/>
<polygon points="1833.1,1609.6 1837.55,1602.4 1846.45,1602.4 1850.9,1609.6 1846.45,1616.8 1837.55,1616.8" fill="none" stroke="#945200" stroke-width="2.1" stroke-linejoin="miter"/>
<path d="M1564,1625.3 L1881.4,1625.3" fill="none" stroke="#000" stroke-width="2.2" stroke-dasharray="0.01,4.46" stroke-linecap="round"/>
<text x="-4.2" y="1910.7" font-size="47" font-weight="bold" textLength="16.67" lengthAdjust="spacingAndGlyphs">i</text>
<text x="270.3" y="1934" font-size="30.5" textLength="937" lengthAdjust="spacingAndGlyphs">Titer and stability of 2×202/141(T) virus recovered from the serum of</text>
<text x="1211.95" y="1947.27" font-size="81.15" stroke="#fff" stroke-width="1.5">♀</text>
<text x="1268" y="1934" font-size="30.5" textLength="164.5" lengthAdjust="spacingAndGlyphs">and MRS of</text>
<text transform="translate(1461.8,1928.5) rotate(-21)" x="-15.68" y="9.88" font-size="49.15" font-family="'Noto Sans CJK JP', 'Noto Sans CJK SC', 'DejaVu Sans', sans-serif" font-weight="100">♂</text>
<text x="1492.3" y="1934" font-size="30.5" textLength="64.5" lengthAdjust="spacingAndGlyphs">mice</text>
<rect x="104.4" y="2133.1" width="1775" height="43" fill="#D9D9D9"/>
<rect x="104.4" y="2176.1" width="1775" height="81.4" fill="#F2F2F2"/>
<rect x="104.4" y="2257.5" width="1775" height="44.9" fill="#D9D9D9"/>
<line x1="103.55" y1="1954.2" x2="1880.25" y2="1954.2" stroke="#3a3a3a" stroke-width="1.7"/>
<line x1="103.55" y1="2133.1" x2="1880.25" y2="2133.1" stroke="#3a3a3a" stroke-width="1.7"/>
<line x1="103.55" y1="2176.1" x2="1880.25" y2="2176.1" stroke="#3a3a3a" stroke-width="1.7"/>
<line x1="103.55" y1="2257.5" x2="1880.25" y2="2257.5" stroke="#3a3a3a" stroke-width="1.7"/>
<line x1="103.55" y1="2300.4" x2="1880.25" y2="2300.4" stroke="#3a3a3a" stroke-width="1.7"/>
<line x1="412.4" y1="2008.2" x2="1553.2" y2="2008.2" stroke="#3a3a3a" stroke-width="1.7"/>
<line x1="412.4" y1="2049.4" x2="1553.2" y2="2049.4" stroke="#3a3a3a" stroke-width="1.7"/>
<line x1="104.4" y1="1954.2" x2="104.4" y2="2302.4" stroke="#3a3a3a" stroke-width="1.7"/>
<line x1="240.7" y1="1954.2" x2="240.7" y2="2302.4" stroke="#3a3a3a" stroke-width="1.7"/>
<line x1="412.4" y1="1954.2" x2="412.4" y2="2302.4" stroke="#3a3a3a" stroke-width="1.7"/>
<line x1="1553.2" y1="1954.2" x2="1553.2" y2="2302.4" stroke="#3a3a3a" stroke-width="1.7"/>
<line x1="1879.4" y1="1954.2" x2="1879.4" y2="2302.4" stroke="#3a3a3a" stroke-width="1.7"/>
<line x1="675.9" y1="2008.2" x2="675.9" y2="2302.4" stroke="#3a3a3a" stroke-width="1.7"/>
<line x1="977.7" y1="2008.2" x2="977.7" y2="2302.4" stroke="#3a3a3a" stroke-width="1.7"/>
<line x1="1278.5" y1="2008.2" x2="1278.5" y2="2302.4" stroke="#3a3a3a" stroke-width="1.7"/>
<line x1="555.4" y1="2049.4" x2="555.4" y2="2302.4" stroke="#3a3a3a" stroke-width="1.7"/>
<line x1="826.5" y1="2049.4" x2="826.5" y2="2302.4" stroke="#3a3a3a" stroke-width="1.7"/>
<line x1="1127.8" y1="2049.4" x2="1127.8" y2="2302.4" stroke="#3a3a3a" stroke-width="1.7"/>
<line x1="1428.4" y1="2049.4" x2="1428.4" y2="2302.4" stroke="#3a3a3a" stroke-width="1.7"/>
<text x="172.55" y="1988.7" font-size="30.6" text-anchor="middle" textLength="96.71" lengthAdjust="spacingAndGlyphs">Mating</text>
<text x="172.55" y="2028.9" font-size="30.6" text-anchor="middle" textLength="53.18" lengthAdjust="spacingAndGlyphs">pair</text>
<text x="326.55" y="1987.7" font-size="30.6" text-anchor="middle" textLength="69.28" lengthAdjust="spacingAndGlyphs">Virus</text>
<text x="326.55" y="2028.9" font-size="30.6" text-anchor="middle" textLength="106.96" lengthAdjust="spacingAndGlyphs">stability</text>
<text x="266.3" y="2080.8" font-size="30.6" textLength="78.59" lengthAdjust="spacingAndGlyphs">in the</text>
<text x="337.54" y="2095.3" font-size="86.54" stroke="#fff" stroke-width="1.5">♀</text>
<text x="330.4" y="2122.6" font-size="30.6" text-anchor="middle" textLength="86.07" lengthAdjust="spacingAndGlyphs">serum</text>
<text x="912.5" y="1994.4" font-size="30.6" textLength="97.54" lengthAdjust="spacingAndGlyphs">MRS of</text>
<text transform="translate(1031.44,1990.26) rotate(-21)" x="-15.87" y="10" font-size="49.76" font-family="'Noto Sans CJK JP', 'Noto Sans CJK SC', 'DejaVu Sans', sans-serif" font-weight="100">♂</text>
<text x="544.15" y="2038.9" font-size="30.6" text-anchor="middle" textLength="74.73" lengthAdjust="spacingAndGlyphs">Testis</text>
<text x="826.8" y="2038.9" font-size="30.6" text-anchor="middle" textLength="147.7" lengthAdjust="spacingAndGlyphs">Epididymis</text>
<text x="1128.1" y="2038.9" font-size="30.6" text-anchor="middle" textLength="67.11" lengthAdjust="spacingAndGlyphs">VasD</text>
<text x="1415.85" y="2038.9" font-size="30.6" text-anchor="middle" textLength="62.87" lengthAdjust="spacingAndGlyphs">SV/P</text>
<text x="483.9" y="2080.8" font-size="30.6" text-anchor="middle" textLength="121.43" lengthAdjust="spacingAndGlyphs">Titer (@)</text>
<text x="615.65" y="2080.8" font-size="30.6" text-anchor="middle" textLength="109.64" lengthAdjust="spacingAndGlyphs">Stability</text>
<text x="751.2" y="2080.8" font-size="30.6" text-anchor="middle" textLength="114.31" lengthAdjust="spacingAndGlyphs">Titer (&amp;)</text>
<text x="902.1" y="2080.8" font-size="30.6" text-anchor="middle" textLength="109.64" lengthAdjust="spacingAndGlyphs">Stability</text>
<text x="1052.75" y="2080.8" font-size="30.6" text-anchor="middle" textLength="114.31" lengthAdjust="spacingAndGlyphs">Titer (&amp;)</text>
<text x="1203.15" y="2080.8" font-size="30.6" text-anchor="middle" textLength="109.64" lengthAdjust="spacingAndGlyphs">Stability</text>
<text x="1353.45" y="2080.8" font-size="30.6" text-anchor="middle" textLength="121.43" lengthAdjust="spacingAndGlyphs">Titer (@)</text>
<text x="1490.8" y="2080.8" font-size="30.6" text-anchor="middle" textLength="109.64" lengthAdjust="spacingAndGlyphs">Stability</text>
<text x="1716.3" y="1984.8" font-size="30.6" text-anchor="middle" textLength="245.57" lengthAdjust="spacingAndGlyphs">Most likely source</text>
<text x="1716.3" y="2027.3" font-size="30.6" text-anchor="middle" textLength="297.6" lengthAdjust="spacingAndGlyphs">within the MRS of the</text>
<text x="1716.3" y="2067.8" font-size="30.6" text-anchor="middle" textLength="239.64" lengthAdjust="spacingAndGlyphs">virus  transmitted</text>
<text x="1654" y="2118" font-size="30.6" textLength="81.87" lengthAdjust="spacingAndGlyphs">to the</text>
<text x="1730.08" y="2132.73" font-size="82.69" stroke="#fff" stroke-width="1.5">♀</text>
<text x="172.55" y="2165.5" font-size="30.6" text-anchor="middle" textLength="33.77" lengthAdjust="spacingAndGlyphs">#1</text>
<text x="326.55" y="2165.5" font-size="30.6" text-anchor="middle" textLength="60.78" lengthAdjust="spacingAndGlyphs">Esc1</text>
<text x="483.9" y="2165.5" font-size="30.6" text-anchor="middle" textLength="59.28" lengthAdjust="spacingAndGlyphs">≤1.7</text>
<text x="615.65" y="2165.5" font-size="30.6" text-anchor="middle" textLength="41.13" lengthAdjust="spacingAndGlyphs">NA</text>
<text x="751.2" y="2165.5" font-size="30.6" text-anchor="middle" textLength="42.55" lengthAdjust="spacingAndGlyphs">3.2</text>
<text x="902.1" y="2165.5" font-size="30.6" text-anchor="middle" textLength="60.78" lengthAdjust="spacingAndGlyphs">Esc2</text>
<text x="1052.75" y="2165.5" font-size="30.6" text-anchor="middle" textLength="41.13" lengthAdjust="spacingAndGlyphs">NA</text>
<text x="1203.15" y="2165.5" font-size="30.6" text-anchor="middle" textLength="41.13" lengthAdjust="spacingAndGlyphs">NA</text>
<text x="1353.45" y="2165.5" font-size="30.6" text-anchor="middle" textLength="41.13" lengthAdjust="spacingAndGlyphs">NA</text>
<text x="1490.8" y="2167" font-size="30.6" text-anchor="middle" textLength="41.13" lengthAdjust="spacingAndGlyphs">NA</text>
<text x="1716.3" y="2165.5" font-size="30.6" text-anchor="middle" textLength="42.36" lengthAdjust="spacingAndGlyphs">ND</text>
<text x="172.55" y="2208" font-size="30.6" text-anchor="middle" textLength="33.77" lengthAdjust="spacingAndGlyphs">#2</text>
<text x="326.55" y="2208" font-size="30.6" text-anchor="middle" textLength="60.78" lengthAdjust="spacingAndGlyphs">Esc3</text>
<text x="483.9" y="2208" font-size="30.6" text-anchor="middle" textLength="59.28" lengthAdjust="spacingAndGlyphs">≤1.7</text>
<text x="615.65" y="2209" font-size="30.6" text-anchor="middle" textLength="41.13" lengthAdjust="spacingAndGlyphs">NA</text>
<text x="751.2" y="2208" font-size="30.6" text-anchor="middle" textLength="42.55" lengthAdjust="spacingAndGlyphs">6.6</text>
<text x="902.1" y="2208" font-size="30.6" text-anchor="middle" textLength="60.78" lengthAdjust="spacingAndGlyphs">Esc3</text>
<text x="1052.75" y="2208" font-size="30.6" text-anchor="middle" textLength="42.55" lengthAdjust="spacingAndGlyphs">2.4</text>
<text x="1203.15" y="2208" font-size="30.6" text-anchor="middle" textLength="60.78" lengthAdjust="spacingAndGlyphs">Esc3</text>
<text x="1353.45" y="2208" font-size="30.6" text-anchor="middle" textLength="59.28" lengthAdjust="spacingAndGlyphs">≤1.7</text>
<text x="1490.8" y="2209" font-size="30.6" text-anchor="middle" textLength="41.13" lengthAdjust="spacingAndGlyphs">NA</text>
<text x="1716.3" y="2208" font-size="30.6" text-anchor="middle" textLength="147.7" lengthAdjust="spacingAndGlyphs">Epididymis</text>
<text x="326.55" y="2249.2" font-size="30.6" text-anchor="middle" textLength="60.78" lengthAdjust="spacingAndGlyphs">Esc4</text>
<text x="902.1" y="2249.2" font-size="30.6" text-anchor="middle" textLength="60.78" lengthAdjust="spacingAndGlyphs">Esc4</text>
<text x="1203.15" y="2249.2" font-size="30.6" text-anchor="middle" textLength="60.78" lengthAdjust="spacingAndGlyphs">Esc4</text>
<text x="172.55" y="2290.3" font-size="30.6" text-anchor="middle" textLength="33.77" lengthAdjust="spacingAndGlyphs">#3</text>
<text x="326.55" y="2290.3" font-size="30.6" text-anchor="middle" textLength="60.78" lengthAdjust="spacingAndGlyphs">Esc5</text>
<text x="483.9" y="2290.3" font-size="30.6" text-anchor="middle" textLength="42.55" lengthAdjust="spacingAndGlyphs">2.4</text>
<text x="615.65" y="2290.3" font-size="30.6" text-anchor="middle" textLength="44.35" lengthAdjust="spacingAndGlyphs">Stb</text>
<text x="751.2" y="2290.3" font-size="30.6" text-anchor="middle" textLength="42.55" lengthAdjust="spacingAndGlyphs">5.2</text>
<text x="902.1" y="2290.3" font-size="30.6" text-anchor="middle" textLength="60.78" lengthAdjust="spacingAndGlyphs">Esc5</text>
<text x="1052.75" y="2290.3" font-size="30.6" text-anchor="middle" textLength="42.55" lengthAdjust="spacingAndGlyphs">2.4</text>
<text x="1203.15" y="2290.3" font-size="30.6" text-anchor="middle" textLength="60.78" lengthAdjust="spacingAndGlyphs">Esc5</text>
<text x="1353.45" y="2290.3" font-size="30.6" text-anchor="middle" textLength="42.55" lengthAdjust="spacingAndGlyphs">2.1</text>
<text x="1490.8" y="2290.3" font-size="30.6" text-anchor="middle" textLength="60.78" lengthAdjust="spacingAndGlyphs">Esc5</text>
<text x="1716.3" y="2290.3" font-size="30.6" text-anchor="middle" textLength="147.7" lengthAdjust="spacingAndGlyphs">Epididymis</text>
</svg>
</body>
</html>
